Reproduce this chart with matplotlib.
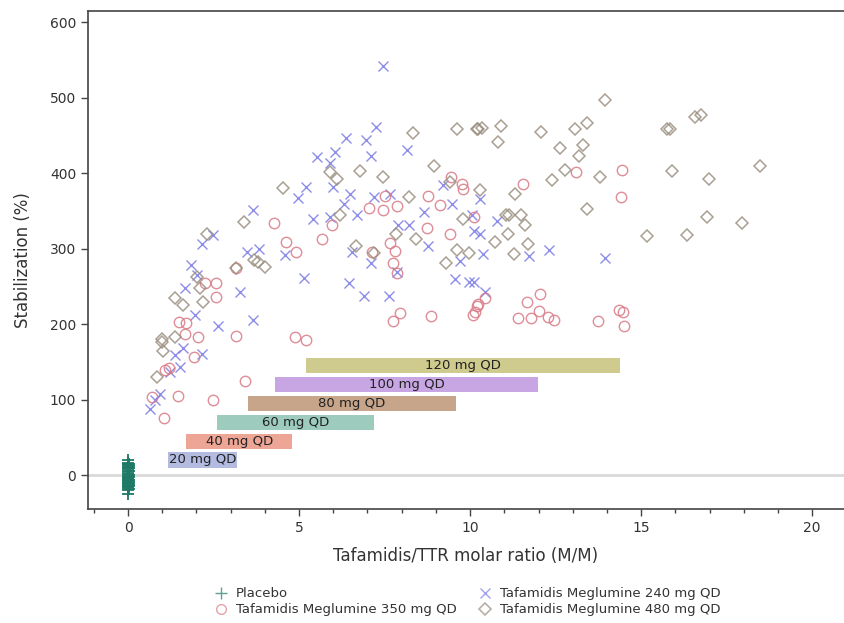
import matplotlib
matplotlib.use("Agg")
import matplotlib.pyplot as plt
from matplotlib.ticker import MultipleLocator
from matplotlib.lines import Line2D

# ---------------- data ----------------
placebo_x = [0.0, 0.01, 0.02, 0.0, 0.01, 0.02, 0.0, 0.01, 0.02, 0.0, 0.01, 0.02, 0.0, 0.01,
             0.02, 0.0, 0.01, 0.02, 0.0, 0.01, 0.02, 0.0, 0.01, 0.02, 0.0, 0.01, 0.02, 0.0,
             0.01, 0.02, 0.0, 0.01, 0.02, 0.0, 0.01]
placebo_y = [20, 16, 15, 14, 13, 12, 11, 10, 9, 8, 6, 5, 3, 2, 0, -1, -2, -3, -4, -5, -6,
             -7, -8, -9, -10, -11, -12, -13, -14, -15, -16, -17, -18, -20, -25]

x240 = [7.46, 7.25, 6.37, 6.96, 8.16, 7.10, 5.52, 6.05, 5.91, 5.20, 4.98, 5.99, 6.49, 6.30,
        7.19, 5.40, 5.91, 6.69, 8.64, 9.22, 9.46, 7.66, 10.05,
        3.65, 2.48, 2.15, 3.49, 3.83, 4.59, 1.83, 2.01, 1.67, 3.26, 1.96, 2.62, 3.65,
        1.62, 2.15, 1.37, 1.52, 1.23, 0.94, 0.64, 0.80,
        6.54, 7.10, 8.78, 9.71, 5.13, 6.47, 6.91, 7.64, 7.86, 9.56, 9.96, 8.20, 7.90, 10.10,
        10.29, 10.78, 10.29, 10.39, 11.73, 12.32, 13.95, 10.10, 10.44]
y240 = [542, 461, 447, 444, 431, 423, 421, 428, 414, 382, 367, 382, 373, 359,
        368, 340, 342, 344, 348, 384, 359, 372, 344,
        351, 318, 306, 295, 300, 292, 279, 265, 248, 243, 212, 197, 206,
        168, 161, 159, 143, 137, 108, 88, 100,
        295, 281, 304, 284, 261, 254, 237, 237, 269, 260, 256, 332, 331, 324,
        366, 337, 320, 293, 290, 298, 288, 256, 243]

x350 = [7.51, 7.86, 7.03, 7.46, 8.78, 9.12, 9.43, 9.75, 9.78, 5.96,
        4.28, 4.61, 3.15, 2.57, 2.25, 2.57, 1.50, 1.70, 1.67, 2.06, 3.15,
        1.94, 1.08, 1.20, 3.42, 1.47, 2.49, 1.05, 0.69,
        4.91, 5.66, 7.13, 7.66, 7.79, 7.74, 7.86, 8.73, 9.42, 7.94, 7.74, 8.87, 10.08, 10.19,
        4.88, 5.20,
        11.56, 13.10, 14.43, 14.40, 10.12,
        10.44, 10.24, 10.15, 11.66, 12.03, 12.00, 11.39, 11.78, 12.29, 12.44, 13.73, 14.34,
        14.46, 14.51]
y350 = [370, 356, 354, 351, 370, 358, 395, 386, 379, 331,
        334, 309, 275, 254, 254, 236, 203, 201, 187, 183, 184,
        156, 139, 142, 125, 105, 99, 75, 104,
        295, 313, 295, 307, 297, 281, 268, 328, 319, 215, 204, 211, 212, 224,
        183, 179,
        386, 401, 404, 368, 342,
        235, 227, 216, 229, 240, 218, 208, 208, 209, 206, 204, 219,
        216, 198]

x480 = [8.34, 9.61, 10.19, 4.54, 5.91, 6.10, 6.77, 7.46, 8.93, 8.20, 9.42, 6.20, 9.80,
        3.39, 2.32, 3.68, 3.81, 4.01, 3.16, 2.01, 2.11, 1.36, 1.60, 2.20, 0.98, 1.37,
        0.98, 1.03, 0.84,
        6.67, 7.19, 7.84, 8.42, 9.61, 9.98, 9.30,
        13.95, 10.24, 10.34, 10.91, 10.83, 12.06, 13.07, 13.41, 12.63, 13.29, 13.17, 12.78,
        12.39, 13.80, 10.29, 11.32, 13.41, 15.75, 11.05, 11.15, 11.48, 11.61, 11.12, 15.16,
        10.73, 11.70, 11.27,
        16.58, 16.74, 15.83, 15.90, 16.97, 18.48, 16.92, 17.94, 16.35]
y480 = [453, 458, 458, 381, 402, 392, 403, 395, 409, 369, 388, 344, 340,
        336, 319, 285, 282, 276, 274, 262, 248, 234, 225, 229, 180, 183,
        176, 165, 130,
        304, 294, 320, 313, 298, 294, 281,
        497, 459, 460, 463, 442, 454, 459, 466, 433, 438, 423, 404,
        391, 395, 378, 373, 353, 459, 344, 345, 344, 331, 320, 317,
        309, 306, 293,
        475, 477, 459, 403, 393, 409, 342, 334, 318]

dose_labels = ["20 mg QD", "40 mg QD", "60 mg QD", "80 mg QD", "100 mg QD", "120 mg QD"]
dose_start = [1.17, 1.70, 2.60, 3.51, 4.30, 5.20]
dose_end = [3.19, 4.80, 7.19, 9.59, 11.99, 14.39]
dose_level = [20, 45, 70, 95, 120, 145]
dose_colors = ["#b3bbe0", "#eda596", "#9dccbf", "#c6a58a", "#c8a6e3", "#cfcb8e"]

# ---------------- figure ----------------
fig = plt.figure(figsize=(8.44, 6.23), dpi=100)
ax = fig.add_axes([88 / 844, 1 - 509 / 623, 756 / 844, (509 - 11) / 623])

ax.axhline(0, color="#d9d9d9", lw=2, zorder=1)

for lab, s, e, lv, c in zip(dose_labels, dose_start, dose_end, dose_level, dose_colors):
    ax.barh(lv, e - s, left=s, height=20, color=c, edgecolor="none", zorder=2)
    ax.text((s + e) / 2, lv, lab, ha="center", va="center", fontsize=9.5,
            color="#222222", zorder=3)

c_plac = "#1e7a66"
c240 = "#7a7ae6"
c350 = "#d97a86"
c480 = "#9a8f80"

ax.plot(x240, y240, ls="none", marker="x", ms=6.5, mew=1.0, color=c240, alpha=0.85, zorder=4)
ax.plot(x350, y350, ls="none", marker="o", ms=7.5, mew=1.0, mfc="none", mec=c350, alpha=0.85, zorder=4)
ax.plot(x480, y480, ls="none", marker="D", ms=6.5, mew=1.1, mfc="none", mec=c480, alpha=0.85, zorder=4)
ax.plot(placebo_x, placebo_y, ls="none", marker="+", ms=8, mew=1.3, color=c_plac, zorder=5)

ax.set_xlim(-1.17, 20.93)
ax.set_ylim(-45, 615)
ax.xaxis.set_major_locator(MultipleLocator(5))
ax.xaxis.set_minor_locator(MultipleLocator(1))
ax.yaxis.set_major_locator(MultipleLocator(100))
ax.tick_params(axis="both", which="major", length=5, width=1, color="#444444",
               labelsize=10, labelcolor="#333333")
ax.tick_params(axis="x", which="minor", length=3, width=1, color="#444444")
for sp in ["left", "bottom", "top"]:
    ax.spines[sp].set_color("#444444")
    ax.spines[sp].set_linewidth(1.2)
ax.spines["right"].set_visible(False)

ax.set_xlabel("Tafamidis/TTR molar ratio (M/M)", fontsize=12, color="#333333", labelpad=9)
ax.set_ylabel("Stabilization (%)", fontsize=12, color="#333333", labelpad=13)

handles = [
    Line2D([], [], ls="none", marker="+", ms=8, mew=1.0, color=c_plac, alpha=0.7),
    Line2D([], [], ls="none", marker="o", ms=7, mew=1.0, mfc="none", mec=c350, alpha=0.7),
    Line2D([], [], ls="none", marker="x", ms=7, mew=1.0, color=c240, alpha=0.7),
    Line2D([], [], ls="none", marker="D", ms=6, mew=1.2, mfc="none", mec=c480, alpha=0.7),
]
labels = ["Placebo", "Tafamidis Meglumine 350 mg QD",
          "Tafamidis Meglumine 240 mg QD", "Tafamidis Meglumine 480 mg QD"]
fig.legend(handles, labels, ncol=2, loc="center", bbox_to_anchor=(0.554, 0.034),
           frameon=False, fontsize=9.5, handlelength=1.0, handletextpad=0.6,
           columnspacing=1.7, labelspacing=0.25, labelcolor="#333333")

fig.savefig("out.png", dpi=100)
